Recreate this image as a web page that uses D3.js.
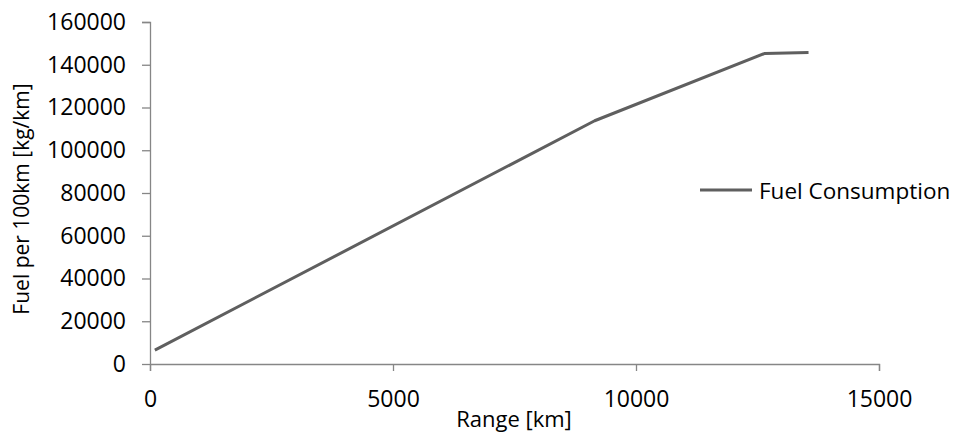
<!DOCTYPE html>
<html><head><meta charset="utf-8">
<script src="https://cdn.jsdelivr.net/npm/d3@7"></script>
<style>body{margin:0;background:#fff}svg{display:block}text{font-family:"Open Sans",sans-serif;fill:#000}</style>
</head><body>
<script>
const rangeKm = [100, 9150, 12650, 13550];
const fuel = [6500, 113800, 145300, 145700];
const xTicks = [0, 5000, 10000, 15000];
const yTicks = [0, 20000, 40000, 60000, 80000, 100000, 120000, 140000, 160000];
const seriesName = "Fuel Consumption";
const xTitle = "Range [km]";
const yTitle = "Fuel per 100km [kg/km]";

const W = 955, H = 434;
const svg = d3.select("body").append("svg").attr("width", W).attr("height", H);
const x = d3.scaleLinear().domain([0, 15000]).range([150, 879]);
const y = d3.scaleLinear().domain([0, 160000]).range([364, 22]);
const axisColor = "#868686";

const gy = svg.append("g").attr("transform", "translate(150,0)")
  .call(d3.axisLeft(y).tickValues(yTicks).tickSize(8).tickPadding(16).tickFormat(d3.format("d")));
const gx = svg.append("g").attr("transform", "translate(0,364)")
  .call(d3.axisBottom(x).tickValues(xTicks).tickSize(7).tickPadding(20).tickFormat(d3.format("d")));
[gy, gx].forEach(g => {
  g.select(".domain").attr("stroke", axisColor).attr("stroke-width", 1.3);
  g.selectAll(".tick line").attr("stroke", axisColor).attr("stroke-width", 1.3);
  g.selectAll(".tick text").attr("font-size", 23).attr("font-family", "'Open Sans',sans-serif").attr("fill", "#000");
});
gy.select(".domain").attr("d", "M-8,22.5H0.5V364.5");
gx.select(".domain").attr("d", "M150.5,0V7M150.5,0.5H879.5V7");

const line = d3.line().x((d, i) => x(rangeKm[i])).y(d => y(d));
svg.append("path").datum(fuel).attr("d", line).attr("fill", "none")
  .attr("stroke", "#5f5f5f").attr("stroke-width", 3).attr("stroke-linejoin", "round");

svg.append("line").attr("x1", 700).attr("x2", 752).attr("y1", 190).attr("y2", 190)
  .attr("stroke", "#5f5f5f").attr("stroke-width", 3);
svg.append("text").attr("x", 759).attr("y", 199).attr("font-size", 22.5).text(seriesName);

svg.append("text").attr("x", 514).attr("y", 427).attr("text-anchor", "middle")
  .attr("font-size", 22).text(xTitle);
svg.append("text").attr("transform", "translate(29,199) rotate(-90)")
  .attr("text-anchor", "middle").attr("font-size", 21).text(yTitle);
</script>
</body></html>
